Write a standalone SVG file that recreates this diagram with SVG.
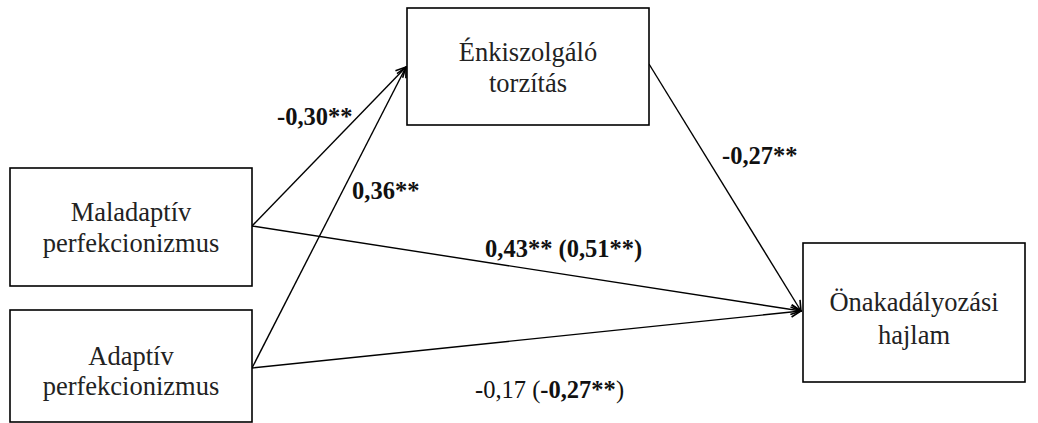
<svg xmlns="http://www.w3.org/2000/svg" width="1038" height="423" viewBox="0 0 1038 423">
<style>
.box{fill:#fff;stroke:#000;stroke-width:1.6}
.nt{font-size:26.5px;fill:#222;text-anchor:middle}
.lb{font-size:24.5px;fill:#111}
.b{font-weight:bold}
.c{stroke:#000;stroke-width:1.4;fill:none;marker-end:url(#ah)}
</style>
<defs>
<marker id="ah" viewBox="0 0 12 12" refX="11" refY="6" markerWidth="12" markerHeight="12" markerUnits="userSpaceOnUse" orient="auto">
<path d="M1,1 L11,6 L1,11" fill="none" stroke="#000" stroke-width="1.6"/>
</marker>
</defs>
<rect width="1038" height="423" fill="#fff"/>
<g id="connectors">
<line class="c" x1="252" y1="226" x2="406" y2="67"/>
<line class="c" x1="252" y1="368" x2="406" y2="67"/>
<line class="c" x1="252" y1="226" x2="801" y2="311"/>
<line class="c" x1="252" y1="368" x2="801" y2="311"/>
<line class="c" x1="649" y1="64" x2="801" y2="311"/>
</g>
<g font-family="'Liberation Serif', 'DejaVu Serif', serif">
<g id="node-maladaptiv">
<rect class="box" x="10" y="168" width="242" height="118"/>
<text class="nt" x="131" y="221">Maladaptív</text>
<text class="nt" x="131" y="252">perfekcionizmus</text>
</g>
<g id="node-adaptiv">
<rect class="box" x="10" y="310" width="242" height="112"/>
<text class="nt" x="131" y="365">Adaptív</text>
<text class="nt" x="131" y="395">perfekcionizmus</text>
</g>
<g id="node-enkiszolgalo">
<rect class="box" x="407" y="8" width="242" height="117"/>
<text class="nt" x="528" y="61">Énkiszolgáló</text>
<text class="nt" x="528" y="92">torzítás</text>
</g>
<g id="node-onakadalyozasi">
<rect class="box" x="803" y="243" width="222" height="139"/>
<text class="nt" x="914" y="311">Önakadályozási</text>
<text class="nt" x="914" y="344">hajlam</text>
</g>
<g id="labels">
<text class="lb b" x="277" y="125">-0,30**</text>
<text class="lb b" x="352" y="199">0,36**</text>
<text class="lb b" x="722" y="164">-0,27**</text>
<text class="lb b" x="485" y="257">0,43** (0,51**)</text>
<text class="lb" x="475" y="398">-0,17 (<tspan class="b">-0,27**</tspan>)</text>
</g>
</g>
</svg>
